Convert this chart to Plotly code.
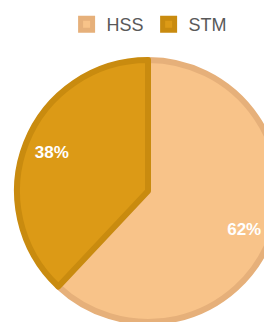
import plotly.graph_objects as go

labels = ["HSS", "STM"]
values = [62, 38]
fill_colors = ["#F8C389", "#DC9A16"]
line_colors = ["#E6B07A", "#C98B0F"]

W, H = 300, 340
# pie domain in figure pixels (page has an 8px body offset)
dom_x = [9 / W, 271 / W]
dom_y = [(H - 314) / H, (H - 52) / H]

base = go.Pie(
    labels=labels,
    values=values,
    sort=False,
    direction="clockwise",
    rotation=0,
    marker=dict(colors=fill_colors, line=dict(color=line_colors, width=6)),
    textinfo="none",
    domain=dict(x=dom_x, y=dom_y),
    hoverinfo="label+percent",
    showlegend=True,
)

text_layer = go.Pie(
    labels=labels,
    values=values,
    sort=False,
    direction="clockwise",
    rotation=0,
    hole=0.58,
    marker=dict(colors=["rgba(0,0,0,0)", "rgba(0,0,0,0)"], line=dict(width=0)),
    textinfo="percent",
    texttemplate="%{percent:.0%}",
    textposition="inside",
    insidetextorientation="horizontal",
    textfont=dict(color="white", size=17, weight="bold",
                  family="Liberation Sans, Arial, sans-serif"),
    domain=dict(x=dom_x, y=dom_y),
    hoverinfo="skip",
    showlegend=False,
)

fig = go.Figure([base, text_layer])

fig.update_layout(
    width=W,
    height=H,
    margin=dict(l=0, r=0, t=0, b=0, autoexpand=False),
    paper_bgcolor="white",
    showlegend=True,
    legend=dict(
        orientation="h",
        x=0.472, xanchor="center",
        y=1.006, yanchor="top",
        font=dict(size=18, color="#595959", family="Liberation Sans, Arial, sans-serif"),
        itemwidth=30,
        traceorder="normal",
    ),
    font=dict(family="Liberation Sans, Arial, sans-serif"),
)

fig.write_html("out.html")
